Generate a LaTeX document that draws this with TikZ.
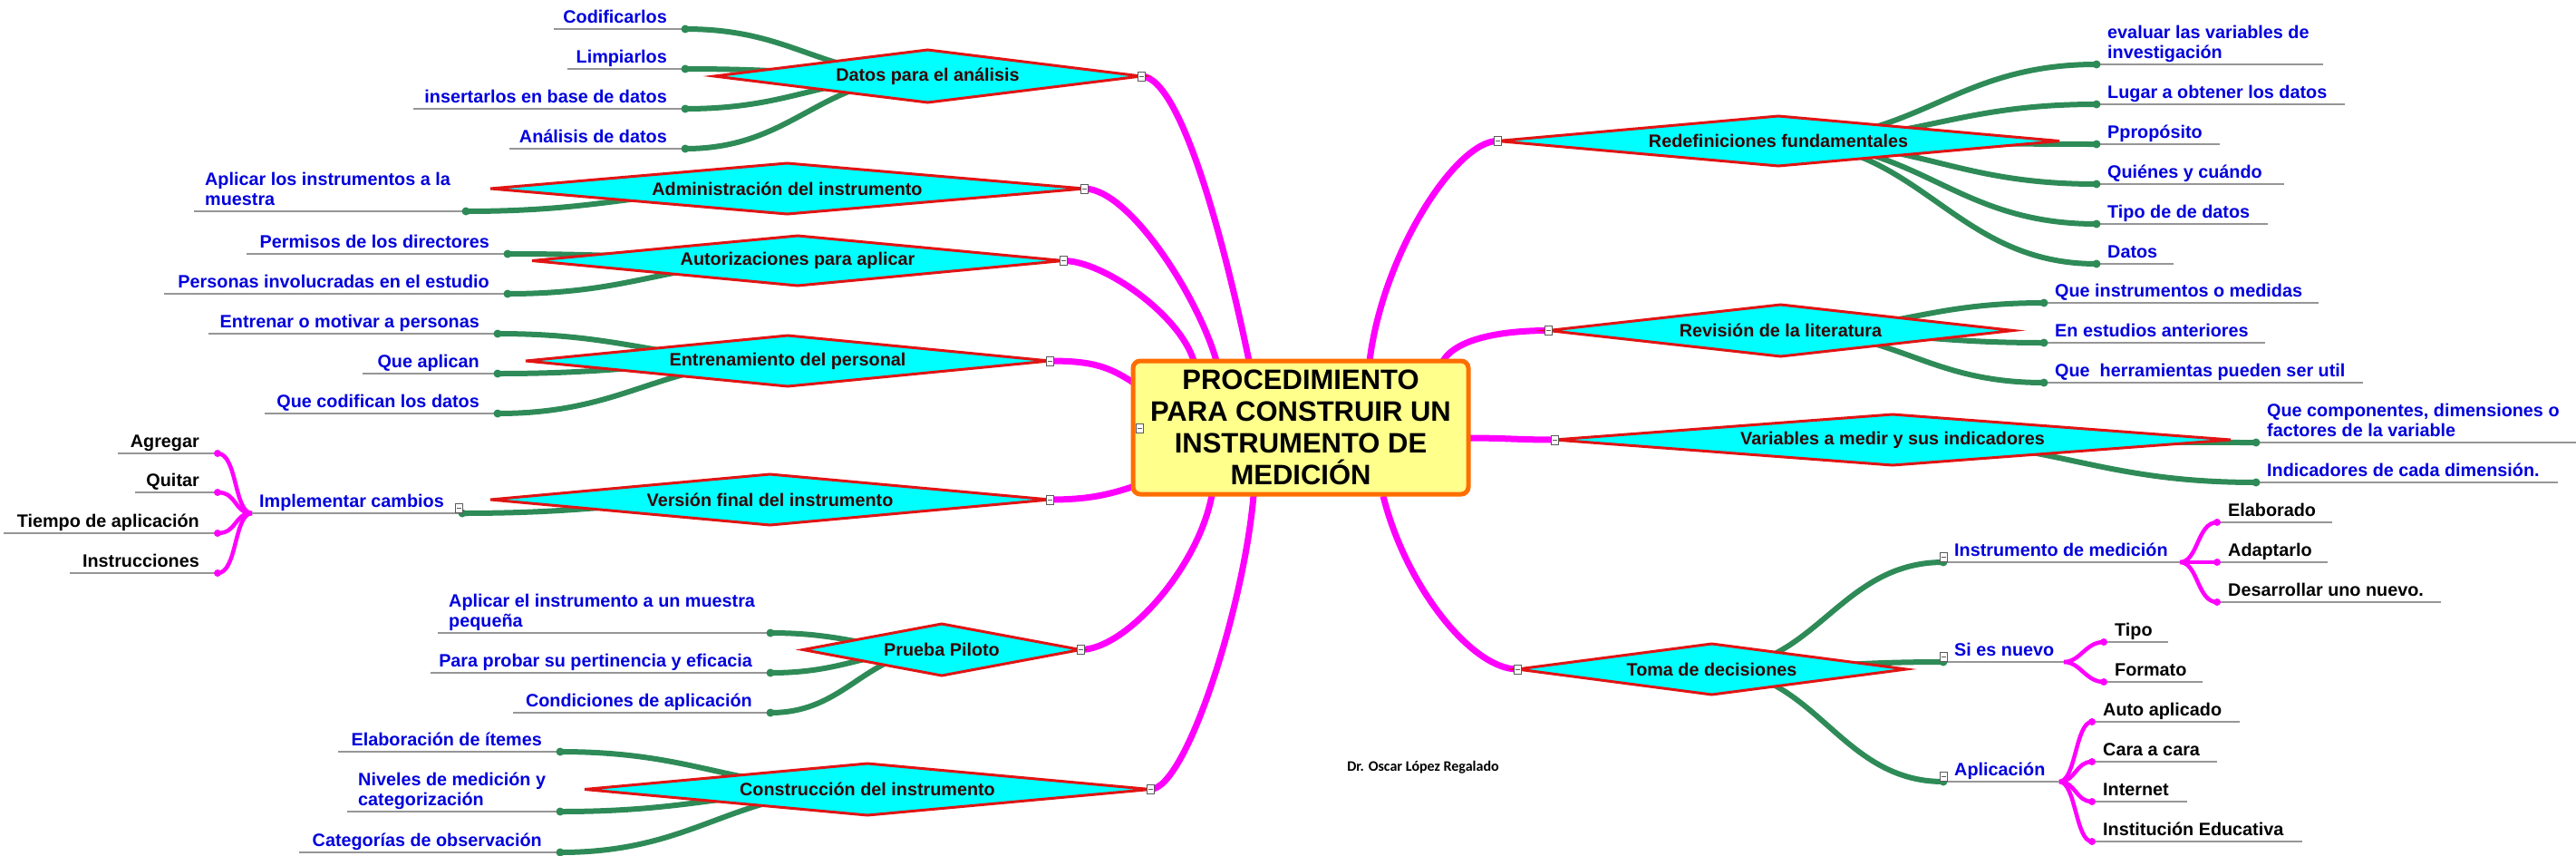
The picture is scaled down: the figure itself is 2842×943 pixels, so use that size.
\documentclass[tikz,border=0pt]{standalone}
\usepackage{fontspec}
\setmainfont{Liberation Sans}
\newfontfamily\carl{Carlito}
\usetikzlibrary{shapes.geometric,calc}
\pgfdeclarelayer{edges}
\pgfsetlayers{edges,main}
\definecolor{kidblue}{RGB}{0,0,220}
\definecolor{dtext}{RGB}{55,5,5}
\definecolor{mag}{RGB}{255,0,255}
\definecolor{grn}{RGB}{46,139,87}
\definecolor{dred}{RGB}{225,20,20}
\definecolor{cyanf}{RGB}{0,255,255}
\definecolor{ulg}{RGB}{150,150,150}
\definecolor{boxy}{RGB}{255,255,140}
\definecolor{boxo}{RGB}{255,110,0}
\tikzset{
 lbl/.style={inner sep=0, font=\bfseries\fontsize{19.8}{22}\selectfont, text=kidblue},
 blk/.style={text=black},
 dia/.style={shape=diamond, draw=dred, fill=cyanf, line width=3, inner sep=0, outer sep=0, font=\bfseries\fontsize{19.8}{22}\selectfont, text=dtext},
 uline/.style={draw=ulg, line width=1.8},
 gline/.style={draw=grn, line width=6},
 mline/.style={draw=mag, line width=7},
 bline/.style={draw=mag, line width=4.5},
 cbox/.style={rectangle, draw=black!65, fill=white, line width=1, minimum width=8, minimum height=10, inner sep=0,
   path picture={\draw[line width=1] ([xshift=1.5]path picture bounding box.west) -- ([xshift=-1.5]path picture bounding box.east);}},
}
% left kid: name, xl, xr, y, text, style
\newcommand\KL[6]{%
 \node[lbl,#6,anchor=base east] (#1) at (#3-20,#4-7) {#5};
 \draw[uline] (#2,#4) -- (#3,#4);
 \coordinate (#1a) at (#3,#4);}
% right kid
\newcommand\KR[6]{%
 \node[lbl,#6,anchor=base west] (#1) at (#2+12,#4-7) {#5};
 \draw[uline] (#2,#4) -- (#3,#4);
 \coordinate (#1a) at (#2,#4);}
% two-line kid: name, xl, xr, y, text, attach x
\newcommand\KT[6]{%
 \node[lbl,align=left,anchor=south west] (#1) at (#2+12,#4) {#5\strut};
 \draw[uline] (#2,#4) -- (#3,#4);
 \coordinate (#1a) at (#6,#4);}
% green connector
\newcommand\GC[4]{%
 \begin{pgfonlayer}{edges}\draw[gline] (#1.center) .. controls +(#3,0) and +(#4,0) .. (#2a);\end{pgfonlayer}
 \fill[grn] (#2a) circle (4.5);}
% magenta brace connector
\newcommand\BC[4]{%
 \begin{pgfonlayer}{edges}\draw[bline] (#1) .. controls +(#3,0) and +(#4,0) .. (#2a);\end{pgfonlayer}
 \fill[mag] (#2a) circle (4);}
\begin{document}
\begin{tikzpicture}[x=1pt,y=-1pt]
\begin{pgfonlayer}{edges}
\fill[white] (0,0) rectangle (2842,943);
\end{pgfonlayer}
\useasboundingbox (0,0) rectangle (2842,943);

% central topic
\node[rectangle, rounded corners=8, draw=boxo, fill=boxy, line width=5, minimum width=370, minimum height=147,
  inner sep=0, align=center, font=\bfseries\fontsize{31}{35}\selectfont] (root) at (1435,471.5)
  {PROCEDIMIENTO\\PARA CONSTRUIR UN\\INSTRUMENTO DE\\MEDICIÓN};

% main topics
\node[dia, minimum width=471, minimum height=58, shape aspect=8.1] (d1) at (1023.5,84) {Datos para el análisis};
\node[dia, minimum width=655, minimum height=56, shape aspect=11.7] (d2) at (868.5,208) {Administración del instrumento};
\node[dia, minimum width=586, minimum height=55, shape aspect=10.6] (d3) at (880,287.5) {Autorizaciones para aplicar};
\node[dia, minimum width=578, minimum height=56, shape aspect=10.3] (d4) at (869,398) {Entrenamiento del personal};
\node[dia, minimum width=617, minimum height=56, shape aspect=11] (d5) at (849.5,551) {Versión final del instrumento};
\node[dia, minimum width=306, minimum height=57, shape aspect=5.37] (d6) at (1039,716.5) {Prueba Piloto};
\node[dia, minimum width=624, minimum height=57, shape aspect=10.9] (d7) at (957,870.5) {Construcción del instrumento};
\node[dia, minimum width=620, minimum height=55, shape aspect=11.3] (r1) at (1962,155.5) {Redefiniciones fundamentales};
\node[dia, minimum width=513, minimum height=57, shape aspect=9] (r2) at (1964.5,364.5) {Revisión de la literatura};
\node[dia, minimum width=746, minimum height=56, shape aspect=13.3] (r3) at (2088,485) {Variables a medir y sus indicadores};
\node[dia, minimum width=429, minimum height=56, shape aspect=7.66] (r4) at (1888.5,738) {Toma de decisiones};

% main connectors
\coordinate (sL1) at (1378,398);
\coordinate (sL2) at (1342,398);
\coordinate (sL3) at (1317,398);
\coordinate (sL4) at (1255,425);
\coordinate (sL5) at (1255,535);
\coordinate (sL6) at (1337,546);
\coordinate (sL7) at (1383,546);
\coordinate (sR1) at (1511,398);
\coordinate (sR2) at (1592,398);
\coordinate (sR3) at (1620,483);
\coordinate (sR4) at (1526,547);
\begin{pgfonlayer}{edges}
\draw[mline] (sL1) .. controls +(-25,-120) and +(45,0) .. (d1.east);
\draw[mline] (sL2) .. controls +(-20,-70) and +(50,0) .. (d2.east);
\draw[mline] (sL3) .. controls +(-15,-50) and +(45,0) .. (d3.east);
\draw[mline] (sL4) .. controls +(-30,-20) and +(50,0) .. (d4.east);
\draw[mline] (sL5) .. controls +(-30,10) and +(45,0) .. (d5.east);
\draw[mline] (sL6) .. controls +(-15,80) and +(50,0) .. (d6.east);
\draw[mline] (sL7) .. controls +(-10,120) and +(40,0) .. (d7.east);
\draw[mline] (sR1) .. controls +(15,-120) and +(-45,0) .. (r1.west);
\draw[mline] (sR2) .. controls +(15,-25) and +(-50,0) .. (r2.west);
\draw[mline] (sR3) .. controls +(40,0) and +(-40,0) .. (r3.west);
\draw[mline] (sR4) .. controls +(25,100) and +(-50,0) .. (r4.west);
\end{pgfonlayer}

% Datos para el análisis
\KL{a1}{611}{756}{32}{Codificarlos}{}
\KL{a2}{626}{756}{76}{Limpiarlos}{}
\KL{a3}{456}{756}{120}{insertarlos en base de datos}{}
\KL{a4}{562}{756}{164}{Análisis de datos}{}
\foreach \k in {a1,a2,a3,a4} {\GC{d1}{\k}{-120}{120}}

% Administración
\KT{b1}{214}{514}{233}{Aplicar los instrumentos a la\\muestra}{514}
\GC{d2}{b1}{-160}{160}

% Autorizaciones
\KL{c1}{272}{560}{280}{Permisos de los directores}{}
\KL{c2}{181}{560}{324}{Personas involucradas en el estudio}{}
\GC{d3}{c1}{-144}{144}
\GC{d3}{c2}{-144}{144}

% Entrenamiento
\KL{e1}{230}{549}{368}{Entrenar o motivar a personas}{}
\KL{e2}{400}{549}{412}{Que aplican}{}
\KL{e3}{292}{549}{456}{Que codifican los datos}{}
\foreach \k in {e1,e2,e3} {\GC{d4}{\k}{-144}{144}}

% Versión final
\KL{impl}{278}{510}{566}{Implementar cambios}{}
\GC{d5}{impl}{-152}{152}
\coordinate (implh) at (278,566);
\KL{g1}{130}{240}{500}{Agregar}{blk}
\KL{g2}{149}{240}{543}{Quitar}{blk}
\KL{g3}{4}{240}{588}{Tiempo de aplicación}{blk}
\KL{g4}{77}{240}{632}{Instrucciones}{blk}
\foreach \k in {g1,g2,g3,g4} {\BC{implh}{\k}{-20}{22}}

% Prueba Piloto
\KT{p1}{483}{850}{698}{Aplicar el instrumento a un muestra\\pequeña}{850}
\KL{p2}{475}{850}{742}{Para probar su pertinencia y eficacia}{}
\KL{p3}{566}{850}{786}{Condiciones de aplicación}{}
\foreach \k in {p1,p2,p3} {\GC{d6}{\k}{-85}{85}}

% Construcción
\KL{q1}{373}{618}{829}{Elaboración de ítemes}{}
\KT{q2}{383}{618}{895}{Niveles de medición y\\categorización}{618}
\KL{q3}{330}{618}{940}{Categorías de observación}{}
\foreach \k in {q1,q2,q3} {\GC{d7}{\k}{-152}{152}}

% Redefiniciones
\KT{s1}{2313}{2563}{71}{evaluar las variables de\\investigación}{2313}
\KR{s2}{2313}{2587}{115}{Lugar a obtener los datos}{}
\KR{s3}{2313}{2449}{159}{Ppropósito}{}
\KR{s4}{2313}{2520}{203}{Quiénes y cuándo}{}
\KR{s5}{2313}{2502}{247}{Tipo de de datos}{}
\KR{s6}{2313}{2398}{291}{Datos}{}
\foreach \k in {s1,s2,s3,s4,s5,s6} {\GC{r1}{\k}{158}{-158}}

% Revisión
\KR{t1}{2255}{2558}{334}{Que instrumentos o medidas}{}
\KR{t2}{2255}{2499}{378}{En estudios anteriores}{}
\KR{t3}{2255}{2607}{422}{Que~~herramientas pueden ser util}{}
\foreach \k in {t1,t2,t3} {\GC{r2}{\k}{131}{-131}}

% Variables
\KT{v1}{2489}{2842}{488}{Que componentes, dimensiones o\\factores de la variable}{2489}
\KR{v2}{2489}{2822}{532}{Indicadores de cada dimensión.}{}
\GC{r3}{v1}{180}{-180}
\GC{r3}{v2}{180}{-180}

% Toma de decisiones
\KR{instr}{2144}{2405}{620}{Instrumento de medición}{}
\KR{nuevo}{2144}{2277}{730}{Si es nuevo}{}
\KR{aplic}{2144}{2272}{862}{Aplicación}{}
\foreach \k in {instr,nuevo,aplic} {\GC{r4}{\k}{115}{-115}}
\coordinate (instrh) at (2405,620);
\coordinate (nuevoh) at (2277,730);
\coordinate (aplich) at (2272,862);
\KR{m1}{2446}{2573}{576}{Elaborado}{blk}
\KR{m2}{2446}{2568}{620}{Adaptarlo}{blk}
\KR{m3}{2446}{2693}{664}{Desarrollar uno nuevo.}{blk}
\foreach \k in {m1,m2,m3} {\BC{instrh}{\k}{20}{-22}}
\KR{n1}{2321}{2392}{708}{Tipo}{blk}
\KR{n2}{2321}{2430}{752}{Formato}{blk}
\foreach \k in {n1,n2} {\BC{nuevoh}{\k}{18}{-20}}
\KR{o1}{2308}{2471}{796}{Auto aplicado}{blk}
\KR{o2}{2308}{2446}{840}{Cara a cara}{blk}
\KR{o3}{2308}{2413}{884}{Internet}{blk}
\KR{o4}{2308}{2540}{928}{Institución Educativa}{blk}
\foreach \k in {o1,o2,o3,o4} {\BC{aplich}{\k}{18}{-18}}

% author
\node[inner sep=0, font=\carl\bfseries\fontsize{16}{18}\selectfont] (auth) at (1570,846) {Dr. Oscar López Regalado};

% collapse markers
\node[cbox] (x0) at (1257,472) {};
\node[cbox] (x1) at (d1.east) {};
\node[cbox] (x2) at (d2.east) {};
\node[cbox] (x3) at (d3.east) {};
\node[cbox] (x4) at (d4.east) {};
\node[cbox] (x5) at (d5.east) {};
\node[cbox] (x6) at (d6.east) {};
\node[cbox] (x7) at (d7.east) {};
\node[cbox] (y1) at (r1.west) {};
\node[cbox] (y2) at (r2.west) {};
\node[cbox] (y3) at (r3.west) {};
\node[cbox] (y4) at (r4.west) {};
\node[cbox] (z1) at (506,560) {};
\node[cbox] (z2) at (2144,614) {};
\node[cbox] (z3) at (2144,724) {};
\node[cbox] (z4) at (2144,856) {};
\end{tikzpicture}
\end{document}
